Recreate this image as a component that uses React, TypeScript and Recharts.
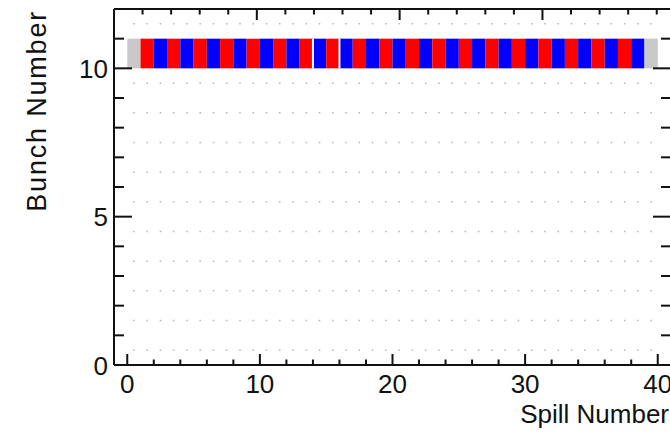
import React from 'react';
import { ComposedChart, XAxis, YAxis, ReferenceArea, ReferenceLine, Label, CartesianGrid } from 'recharts';

// Spill number (bin lower edge) of every filled cell
const spillNumbers = [
  0, 1, 2, 3, 4, 5, 6, 7, 8, 9,
  10, 11, 12, 13, 14, 15, 16, 17, 18, 19,
  20, 21, 22, 23, 24, 25, 26, 27, 28, 29,
  30, 31, 32, 33, 34, 35, 36, 37, 38, 39,
];
// Bunch number (bin lower edge) of every filled cell
const bunchNumbers = [
  10, 10, 10, 10, 10, 10, 10, 10, 10, 10,
  10, 10, 10, 10, 10, 10, 10, 10, 10, 10,
  10, 10, 10, 10, 10, 10, 10, 10, 10, 10,
  10, 10, 10, 10, 10, 10, 10, 10, 10, 10,
];
// State of every cell
const cellStates = [
  'empty', 'red', 'blue', 'red', 'blue', 'red', 'blue', 'red', 'blue', 'red',
  'blue', 'red', 'blue', 'red', 'blue', 'red', 'blue', 'red', 'blue', 'red',
  'blue', 'red', 'blue', 'red', 'blue', 'red', 'blue', 'red', 'blue', 'red',
  'blue', 'red', 'blue', 'red', 'blue', 'red', 'blue', 'red', 'blue', 'empty',
];
const separatorSpills = [14, 16];
const binWidth = 1;

const xTicks = [0, 2, 4, 6, 8, 10, 12, 14, 16, 18, 20, 22, 24, 26, 28, 30, 32, 34, 36, 38, 40];
const xMajor = [0, 10, 20, 30, 40];
const yTicks = [0, 1, 2, 3, 4, 5, 6, 7, 8, 9, 10, 11, 12];
const yMajor = [0, 5, 10];
const gridRows = [0.5, 1.5, 2.5, 3.5, 4.5, 5.5, 6.5, 7.5, 8.5, 9.5, 10.5, 11.5];

const xDomain = [-1, 41];
const yDomain = [0, 12];

const stateColors: Record<string, string> = { empty: '#c8c8c8', red: '#ff0000', blue: '#0000ff' };

const cells = spillNumbers.map((s, i) => ({ spill: s, bunch: bunchNumbers[i], state: cellStates[i] }));

const FONT = '"Liberation Sans", Arial, Helvetica, sans-serif';
const INK = '#111';

// dotted grid style: one dot per spill bin centre, none outside the filled spill range
const PLOT_W = 557;
const unitPx = PLOT_W / (xDomain[1] - xDomain[0]);
const dotLen = 1.5;
const dashParts: number[] = [0, (0.5 - xDomain[0]) * unitPx - dotLen / 2];
spillNumbers.forEach(() => { dashParts.push(dotLen, unitPx - dotLen); });
dashParts[dashParts.length - 1] = 2000;
const gridDash = dashParts.map((d) => d.toFixed(3)).join(' ');

const BottomTick = (p: any) => {
  const v = p.payload.value;
  const major = xMajor.includes(v);
  return (
    <g>
      <line x1={p.x} x2={p.x} y1={p.y} y2={p.y - (major ? 11 : 5.5)} stroke={INK} strokeWidth={2} />
      {major && (
        <text x={p.x} y={p.y + 28} textAnchor="middle" fontSize={26} fontFamily={FONT} fill={INK}>
          {v}
        </text>
      )}
    </g>
  );
};
const TopTick = (p: any) => {
  const v = p.payload.value;
  const major = xMajor.includes(v);
  return <line x1={p.x} x2={p.x} y1={p.y} y2={p.y + (major ? 11 : 5.5)} stroke={INK} strokeWidth={2} />;
};
const LeftTick = (p: any) => {
  const v = p.payload.value;
  const major = yMajor.includes(v);
  return (
    <g>
      <line x1={p.x} x2={p.x + (major ? 18 : 10)} y1={p.y} y2={p.y} stroke={INK} strokeWidth={2} />
      {major && (
        <text x={p.x - 6} y={p.y + 9.5} textAnchor="end" fontSize={26} fontFamily={FONT} fill={INK}>
          {v}
        </text>
      )}
    </g>
  );
};
const RightTick = (p: any) => {
  const v = p.payload.value;
  const major = yMajor.includes(v);
  return <line x1={p.x} x2={p.x - (major ? 18 : 10)} y1={p.y} y2={p.y} stroke={INK} strokeWidth={2} />;
};

const XTitle = (p: any) => {
  const vb = p.viewBox;
  return (
    <text x={vb.x + vb.width - 2} y={vb.y + 58} textAnchor="end" fontSize={26} fontFamily={FONT} fill={INK}>
      Spill Number
    </text>
  );
};
const YTitle = (p: any) => {
  const vb = p.viewBox;
  const x = 46;
  const y = vb.y + 1;
  return (
    <text x={x} y={y} transform={`rotate(-90, ${x}, ${y})`} textAnchor="end" fontSize={27} letterSpacing={1.8} fontFamily={FONT} fill={INK}>
      Bunch Number
    </text>
  );
};

export default function App() {
  return (
    <div style={{ position: 'fixed', left: 0, top: 0, width: 670, height: 437, overflow: 'hidden', background: '#fff' }}>
      <div style={{ width: 680, height: 437 }}>
        <ComposedChart width={680} height={437} data={cells} margin={{ top: 0, right: 0, bottom: 0, left: 0 }}>
          <CartesianGrid
            xAxisId={0}
            yAxisId={0}
            vertical={false}
            horizontalValues={gridRows}
            stroke="#b4b4b4"
            strokeWidth={1.5}
            strokeDasharray={gridDash}
          />
          <XAxis
            xAxisId={0}
            dataKey="spill"
            type="number"
            domain={xDomain}
            allowDataOverflow
            ticks={xTicks}
            interval={0}
            tickSize={0}
            tickMargin={0}
            tickLine={false}
            tick={(p: any) => <BottomTick {...p} />}
            axisLine={{ stroke: INK, strokeWidth: 2 }}
            height={72}
          >
            <Label content={XTitle} />
          </XAxis>
          <XAxis
            xAxisId="top"
            orientation="top"
            type="number"
            domain={xDomain}
            allowDataOverflow
            ticks={xTicks}
            interval={0}
            tickSize={0}
            tickMargin={0}
            tickLine={false}
            tick={(p: any) => <TopTick {...p} />}
            axisLine={{ stroke: INK, strokeWidth: 2 }}
            height={9}
          />
          <YAxis
            yAxisId={0}
            type="number"
            domain={yDomain}
            allowDataOverflow
            ticks={yTicks}
            interval={0}
            tickSize={0}
            tickMargin={0}
            tickLine={false}
            tick={(p: any) => <LeftTick {...p} />}
            axisLine={{ stroke: INK, strokeWidth: 2 }}
            width={114}
          >
            <Label content={YTitle} />
          </YAxis>
          <YAxis
            yAxisId="right"
            orientation="right"
            type="number"
            domain={yDomain}
            allowDataOverflow
            ticks={yTicks}
            interval={0}
            tickSize={0}
            tickMargin={0}
            tickLine={false}
            tick={(p: any) => <RightTick {...p} />}
            axisLine={{ stroke: INK, strokeWidth: 2 }}
            width={9}
          />
          {cells.map((c) => (
            <ReferenceArea
              key={`c${c.spill}`}
              xAxisId={0}
              yAxisId={0}
              x1={c.spill}
              x2={c.spill + binWidth}
              y1={c.bunch}
              y2={c.bunch + binWidth}
              fill={stateColors[c.state]}
              fillOpacity={1}
              stroke="none"
            />
          ))}
          {separatorSpills.map((s) => (
            <ReferenceLine
              key={`s${s}`}
              xAxisId={0}
              yAxisId={0}
              segment={[{ x: s, y: bunchNumbers[0] }, { x: s, y: bunchNumbers[0] + binWidth }]}
              stroke="#ffffff"
              strokeWidth={2}
            />
          ))}
        </ComposedChart>
      </div>
    </div>
  );
}
